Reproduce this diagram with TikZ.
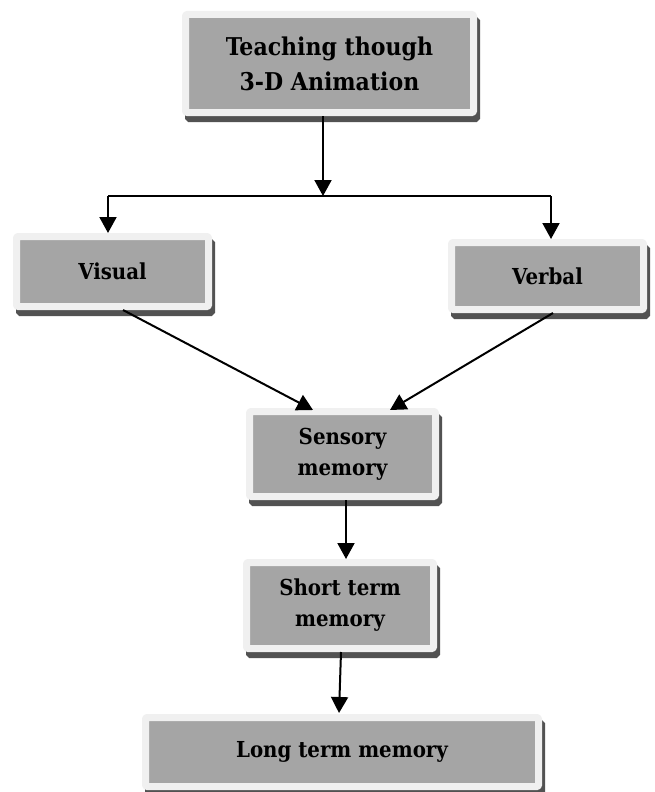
\documentclass[tikz,border=0pt]{standalone}
\usepackage{fontspec}
\setmainfont{DejaVu Serif Condensed}
\usetikzlibrary{arrows.meta}
\definecolor{innergray}{HTML}{A5A5A5}
\definecolor{framegray}{HTML}{F0F0F0}
\definecolor{shadowgray}{HTML}{525252}
\tikzset{
  boxnode/.style={fill=innergray, draw=framegray, line width=7pt, line join=round,
    rounded corners=1pt, inner sep=0pt, align=center,
    font=\bfseries\fontsize{22}{31}\selectfont,
    preaction={draw=shadowgray, fill=shadowgray, line join=miter, sharp corners,
      transform canvas={shift={(3pt,-6pt)}}}},
  arr/.style={line width=2pt, -{Triangle[length=16pt,width=17pt]}},
  conn/.style={line width=1.7pt}
}
\begin{document}
\begin{tikzpicture}[x=1pt,y=-1pt]
\useasboundingbox (0,0) rectangle (655,792);
\node[boxnode, minimum width=288pt, minimum height=98pt, font=\bfseries\fontsize{24.5}{35}\selectfont] (top) at (329.5,63.5) {Teaching though\\3-D Animation};
\node[boxnode, minimum width=192pt, minimum height=70pt] (visual) at (112.5,271.5) {Visual};
\node[boxnode, minimum width=192pt, minimum height=67pt] (verbal) at (547.5,276) {Verbal};
\node[boxnode, minimum width=186pt, minimum height=85pt] (sensory) at (342.5,454) {Sensory\\memory};
\node[boxnode, minimum width=187pt, minimum height=86pt] (short) at (340,605.5) {Short term\\memory};
\node[boxnode, minimum width=393pt, minimum height=69pt] (long) at (342,752) {Long term memory};
\coordinate (j) at (323,196);
\coordinate (bl) at (108,196);
\coordinate (br) at (551,196);
\draw[conn] (bl) -- (br);
\draw[arr] (top.south -| j) -- (j);
\draw[arr] (bl) -- (bl |- visual.north);
\draw[arr] (br) -- (br |- verbal.north);
\draw[arr] (visual.south -| 123,0) -- (313,410);
\draw[arr] (verbal.south -| 553,0) -- (390,410);
\draw[arr] (sensory.south -| 346,0) -- (346,559);
\draw[arr] (short.south -| 341,0) -- (339,713);
\end{tikzpicture}
\end{document}
